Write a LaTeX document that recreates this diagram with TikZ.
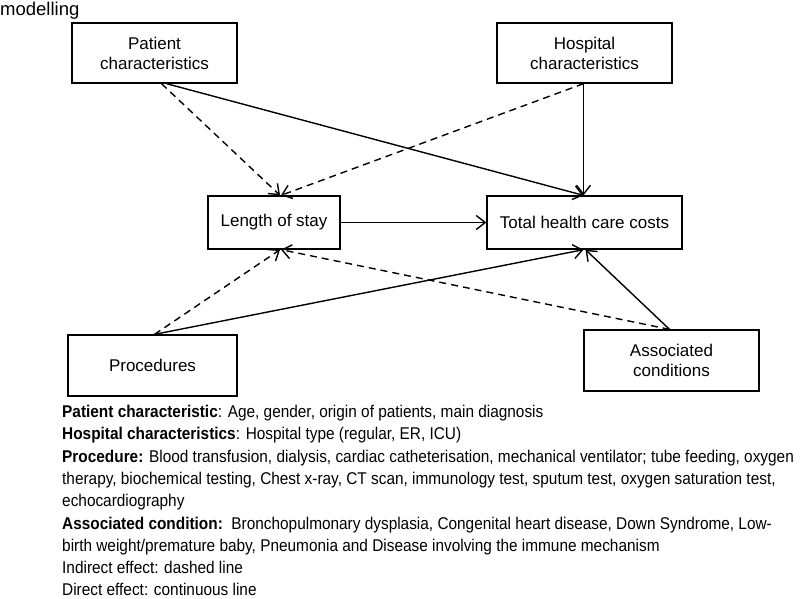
\documentclass[tikz,border=0pt]{standalone}
\usepackage{fontspec}
\setmainfont{Liberation Sans}
\newfontfamily\narrowfont[FakeStretch=0.905]{Liberation Sans}
\usetikzlibrary{arrows.meta}
\tikzset{
  box/.style={draw, line width=1.3pt, inner sep=0pt, align=center,
    font=\fontsize{17}{20}\selectfont},
  conn/.style={line width=1.4pt, -{Straight Barb[length=9pt,width=14pt,line width=1.4pt]}},
  indirect/.style={conn, dash pattern=on 7pt off 5pt},
  legend/.style={anchor=base west, inner sep=0pt, font=\narrowfont\fontsize{17}{20}\selectfont}
}
\begin{document}
\begin{tikzpicture}[x=1pt,y=-1pt]
\useasboundingbox (0,0) rectangle (800,598);
\node[anchor=base west, inner sep=0pt, font=\fontsize{18.5}{20}\selectfont] (top) at (0,15) {modelling};

\node[box, minimum width=165pt, minimum height=60pt] (pat) at (154.5,53) {Patient\\characteristics};
\node[box, minimum width=175pt, minimum height=60pt] (hos) at (584.5,53) {Hospital\\characteristics};
\node[box, minimum width=132pt, minimum height=53pt] (los) at (274,222.5) {Length of stay};
\node[box, minimum width=195pt, minimum height=53pt] (tot) at (584.5,222.5) {Total health care costs};
\node[box, minimum width=169pt, minimum height=61pt] (pro) at (152.5,365.5) {Procedures};
\node[box, minimum width=175pt, minimum height=61pt] (aso) at (671.5,360.5) {Associated\\conditions};

\draw[indirect] ([xshift=7pt]pat.south) -- ([xshift=6pt]los.north);
\draw[conn] ([xshift=12pt]pat.south) -- ([xshift=-1pt]tot.north);
\draw[conn] ([xshift=-1pt]hos.south) -- ([xshift=-1pt]tot.north);
\draw[indirect] ([xshift=-1pt]hos.south) -- ([xshift=7pt]los.north);
\draw[conn] (los.east) -- (tot.west);
\draw[indirect] ([xshift=2pt]pro.north) -- ([xshift=6pt]los.south);
\draw[conn] ([xshift=2pt]pro.north) -- ([xshift=-1pt]tot.south);
\draw[indirect] ([xshift=-2pt]aso.north) -- ([xshift=7pt]los.south);
\draw[conn] ([xshift=-2pt]aso.north) -- ([xshift=1pt]tot.south);

\node[legend] (l1) at (62,417.5) {\textbf{Patient characteristic}: Age, gender, origin of patients, main diagnosis};
\node[legend] (l2) at (62,439.8) {\textbf{Hospital characteristics}: Hospital type (regular, ER, ICU)};
\node[legend] (l3) at (62,462.1) {\textbf{Procedure:} Blood transfusion, dialysis, cardiac catheterisation, mechanical ventilator; tube feeding, oxygen};
\node[legend] (l4) at (62,484.4) {therapy, biochemical testing, Chest x-ray, CT scan, immunology test, sputum test, oxygen saturation test,};
\node[legend] (l5) at (62,506.7) {echocardiography};
\node[legend] (l6) at (62,529) {\textbf{Associated condition:}\ \ Bronchopulmonary dysplasia, Congenital heart disease, Down Syndrome, Low-};
\node[legend] (l7) at (62,551.3) {birth weight/premature baby, Pneumonia and Disease involving the immune mechanism};
\node[legend] (l8) at (62,573.6) {Indirect effect: dashed line};
\node[legend] (l9) at (62,595.5) {Direct effect: continuous line};
\end{tikzpicture}
\end{document}
